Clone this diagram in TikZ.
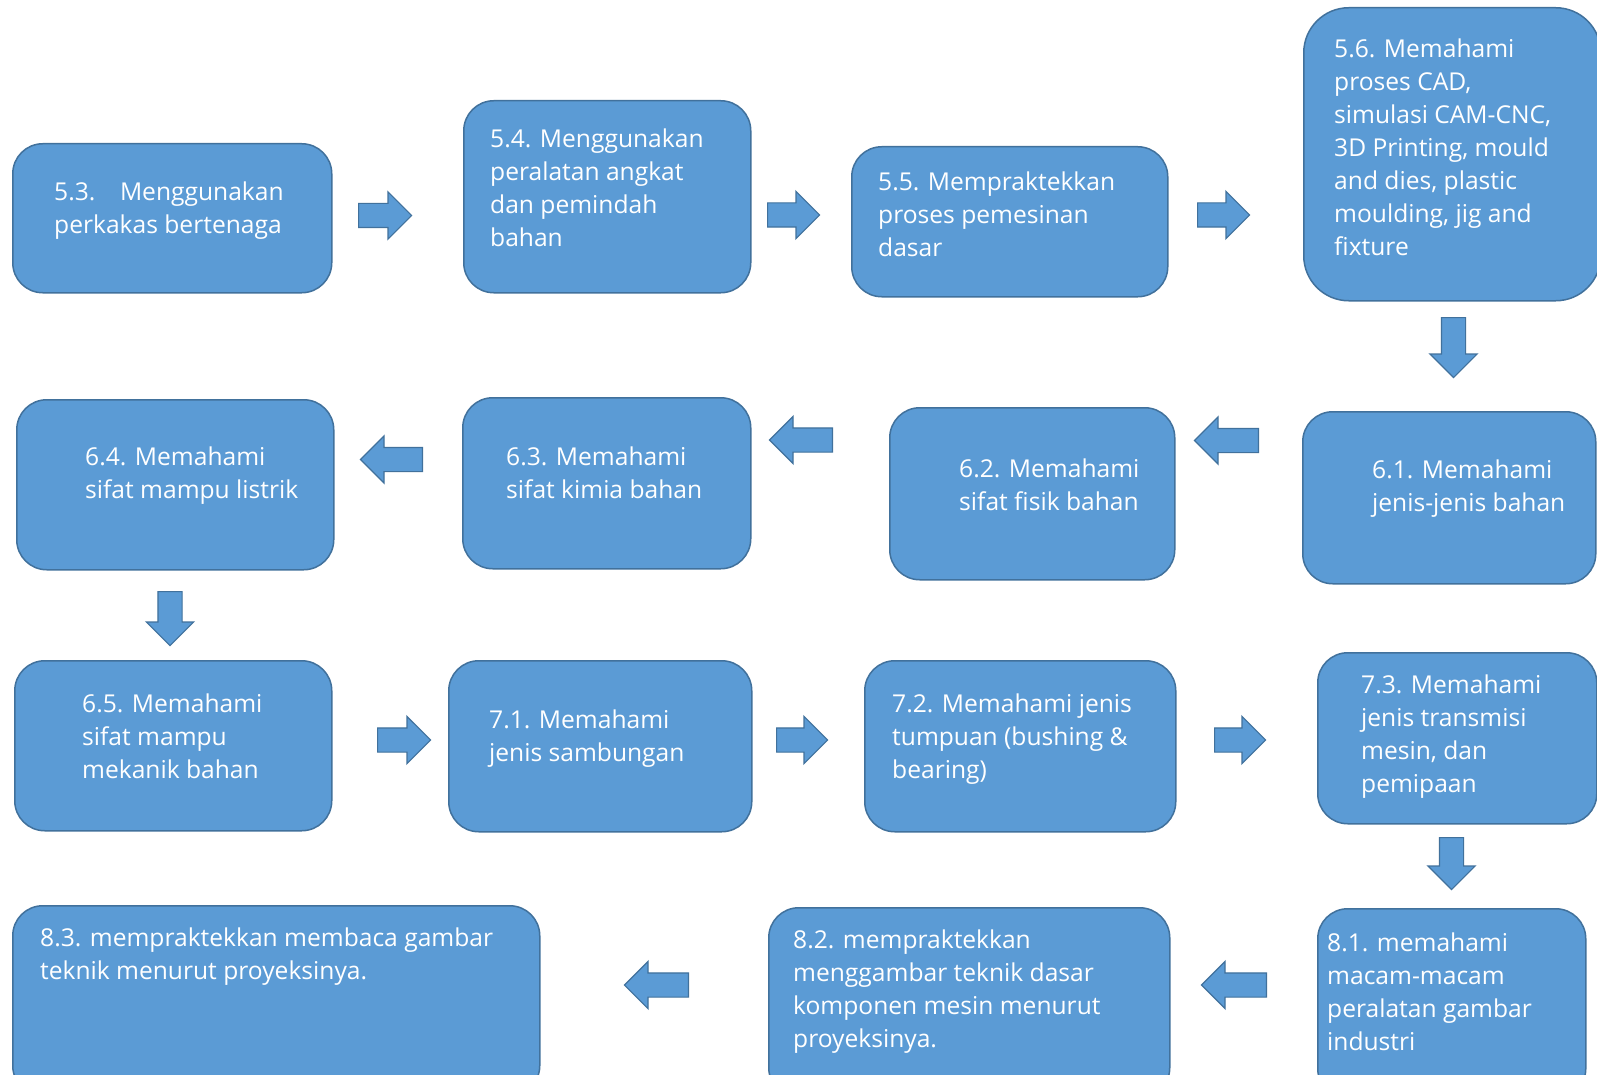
\documentclass[tikz,border=0pt]{standalone}
\usepackage{fontspec}
\setmainfont{Open Sans}
\usetikzlibrary{shapes.arrows}

\definecolor{boxfill}{HTML}{5B9BD5}
\definecolor{boxline}{HTML}{41719C}

\tikzset{
  stepbox/.style={draw=boxline, fill=boxfill, line width=1.5pt, rounded corners=30pt,
    anchor=north west, inner sep=0pt},
  steptext/.style={anchor=west, align=left, text=white, inner sep=0pt,
    font=\fontsize{24.6}{33}\selectfont},
  blockarrow/.style={shape=single arrow, draw=boxline, fill=boxfill, line width=1.2pt,
    inner sep=11.5pt, single arrow head extend=11.5pt,
    single arrow tip angle=90, anchor=tail},
  leftarrow/.style={blockarrow, shape border rotate=180},
  downarrow/.style={blockarrow, shape border rotate=270},
}

\begin{document}
\begin{tikzpicture}[x=1pt, y=-1pt]
  \useasboundingbox (0,0) rectangle (1597,1075);
  \fill[white] (0,0) rectangle (1597,1075);
  \clip (0,0) rectangle (1597,1075);

  % row 5.x
  \node[stepbox, minimum width=319pt, minimum height=149pt] (s53) at (12,143) {};
  \node[stepbox, minimum width=287pt, minimum height=192pt] (s54) at (463,100) {};
  \node[stepbox, minimum width=316pt, minimum height=150pt] (s55) at (851,146) {};
  \node[stepbox, minimum width=297pt, minimum height=293pt, rounded corners=45pt] (s56) at (1303,7) {};
  \node[steptext] (t53) at (54,211) {5.3.\quad Menggunakan\\perkakas bertenaga};
  \node[steptext] (t54) at (490,188) {5.4. Menggunakan\\peralatan angkat\\dan pemindah\\bahan};
  \node[steptext] (t55) at (878,214) {5.5. Mempraktekkan\\proses pemesinan\\dasar};
  \node[steptext] (t56) at (1334,147) {5.6. Memahami\\proses CAD,\\simulasi CAM-CNC,\\3D Printing, mould\\and dies, plastic\\moulding, jig and\\fixture};

  % row 6.x
  \node[stepbox, minimum width=293pt, minimum height=172pt] (s61) at (1302,411) {};
  \node[stepbox, minimum width=285pt, minimum height=172pt] (s62) at (889,407) {};
  \node[stepbox, minimum width=288pt, minimum height=171pt] (s63) at (462,397) {};
  \node[stepbox, minimum width=317pt, minimum height=170pt] (s64) at (16,399) {};
  \node[steptext] (t61) at (1372,489) {6.1. Memahami\\jenis-jenis bahan};
  \node[steptext] (t62) at (959,485) {6.2. Memahami\\sifat fisik bahan};
  \node[steptext] (t63) at (506,473) {6.3. Memahami\\sifat kimia bahan};
  \node[steptext] (t64) at (85,476) {6.4. Memahami\\sifat mampu listrik};

  % row 6.5 / 7.x
  \node[stepbox, minimum width=317pt, minimum height=170pt] (s65) at (14,660) {};
  \node[stepbox, minimum width=303pt, minimum height=171pt] (s71) at (448,660) {};
  \node[stepbox, minimum width=311pt, minimum height=171pt] (s72) at (864,660) {};
  \node[stepbox, minimum width=279pt, minimum height=171pt] (s73) at (1317,652) {};
  \node[steptext] (t65) at (82,736) {6.5. Memahami\\sifat mampu\\mekanik bahan};
  \node[steptext] (t71) at (489,739) {7.1. Memahami\\jenis sambungan};
  \node[steptext] (t72) at (892,739) {7.2. Memahami jenis\\tumpuan (bushing \&\\bearing)};
  \node[steptext] (t73) at (1361,737) {7.3. Memahami\\jenis transmisi\\mesin, dan\\pemipaan};

  % row 8.x
  \node[stepbox, minimum width=268pt, minimum height=190pt] (s81) at (1317,908) {};
  \node[stepbox, minimum width=401pt, minimum height=190pt] (s82) at (768,907) {};
  \node[stepbox, minimum width=527pt, minimum height=190pt] (s83) at (12,905) {};
  \node[steptext] (t81) at (1327,992) {8.1. memahami\\macam-macam\\peralatan gambar\\industri};
  \node[steptext] (t82) at (793,992) {8.2. mempraktekkan\\menggambar teknik dasar\\komponen mesin menurut\\proyeksinya.};
  \node[steptext] (t83) at (40,957) {8.3. mempraktekkan membaca gambar\\teknik menurut proyeksinya.};

  % block arrows, placed by their tails
  \node[blockarrow, minimum height=53pt] (a1) at (358,215.5) {};
  \node[blockarrow, minimum height=52pt] (a2) at (767,215) {};
  \node[blockarrow, minimum height=52pt] (a3) at (1197,215) {};
  \node[downarrow, minimum height=60pt] (a4) at (1453.5,317) {};
  \node[leftarrow, minimum height=64pt] (a5) at (1259,440.5) {};
  \node[leftarrow, minimum height=63pt] (a6) at (833,440) {};
  \node[leftarrow, minimum height=62pt] (a7) at (423,459.5) {};
  \node[downarrow, minimum height=54pt] (a8) at (170,591) {};
  \node[blockarrow, minimum height=53pt] (a9) at (377,740) {};
  \node[blockarrow, minimum height=51pt] (a10) at (776,740) {};
  \node[blockarrow, minimum height=51pt] (a11) at (1214,740) {};
  \node[downarrow, minimum height=52pt] (a12) at (1451.5,837) {};
  \node[leftarrow, minimum height=65pt] (a13) at (1267,985) {};
  \node[leftarrow, minimum height=64pt] (a14) at (689,985) {};
\end{tikzpicture}
\end{document}
